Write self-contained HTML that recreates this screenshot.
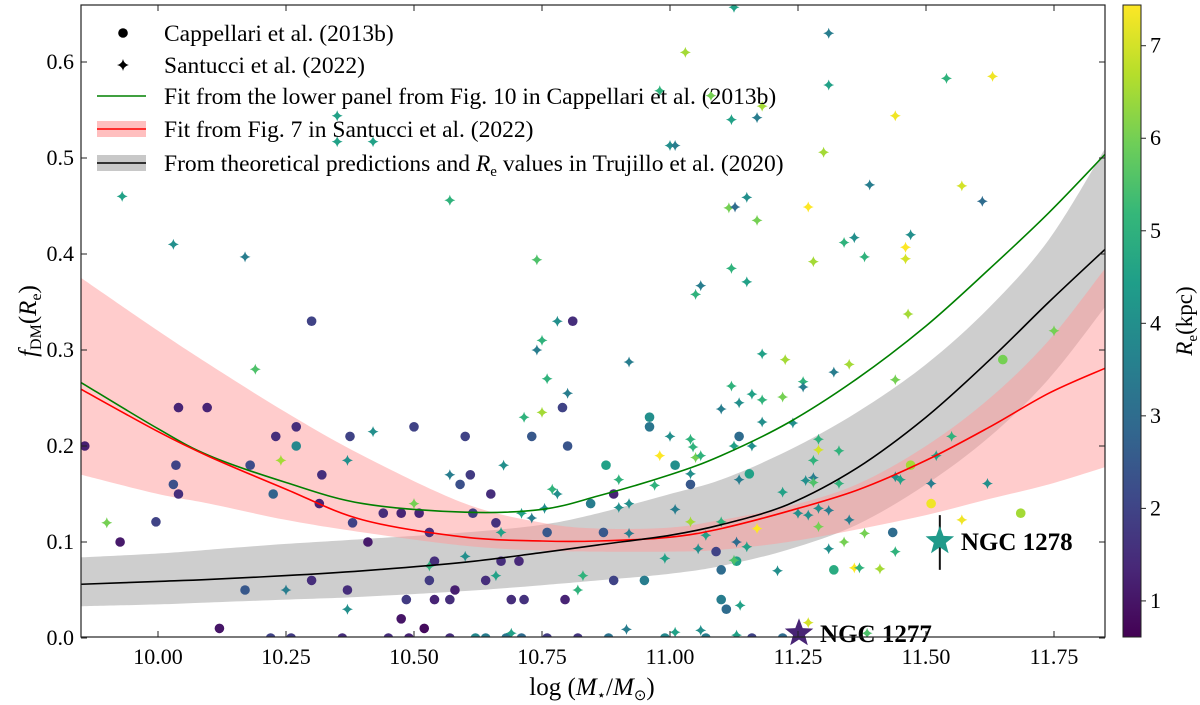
<!DOCTYPE html>
<html><head><meta charset="utf-8"><style>
body{margin:0;background:#fff;}
svg{display:block;font-family:"Liberation Serif",serif;}
</style></head><body>
<svg id="chart" width="1200" height="705" viewBox="0 0 1200 705" xmlns="http://www.w3.org/2000/svg" style="position:absolute;left:0;top:0">
<defs><clipPath id="clip"><rect x="81" y="5" width="1024" height="632"/></clipPath>
<linearGradient id="vir" x1="0" y1="1" x2="0" y2="0">
<stop offset="0" stop-color="#440154"/><stop offset="0.11" stop-color="#482878"/><stop offset="0.22" stop-color="#3e4989"/><stop offset="0.33" stop-color="#31688e"/><stop offset="0.44" stop-color="#26828e"/><stop offset="0.56" stop-color="#1f9e89"/><stop offset="0.67" stop-color="#35b779"/><stop offset="0.78" stop-color="#6ece58"/><stop offset="0.89" stop-color="#b5de2b"/><stop offset="1" stop-color="#fde725"/></linearGradient></defs>
<g id="bands" clip-path="url(#clip)"></g>
<g id="marks" clip-path="url(#clip)"></g>
<g id="axes"></g>
</svg>
<script>
const NS="http://www.w3.org/2000/svg";
// ---- data ----
const cappX=[9.857,9.926,9.996,10.04,10.096,10.035,10.03,10.04,10.12,10.17,10.18,10.225,10.23,10.27,10.27,10.30,10.30,10.32,10.315,10.37,10.375,10.38,10.41,10.44,10.475,10.475,10.485,10.50,10.51,10.52,10.53,10.53,10.54,10.54,10.57,10.58,10.59,10.60,10.61,10.615,10.64,10.65,10.66,10.67,10.69,10.705,10.715,10.73,10.76,10.79,10.80,10.81,10.795,10.845,10.96,10.96,10.875,11.01,11.135,10.89,11.04,11.155,10.87,11.09,11.10,11.13,10.89,10.95,11.10,11.11,11.32,11.435,11.47,11.51,11.65,11.685,10.22,10.26,10.36,10.45,10.49,10.57,10.62,10.64,10.68,10.71,10.76,10.82,10.88,10.99,11.07,11.16,11.22];
const cappY=[0.20,0.10,0.121,0.24,0.24,0.18,0.16,0.15,0.01,0.05,0.18,0.15,0.21,0.22,0.20,0.33,0.06,0.17,0.14,0.05,0.21,0.12,0.10,0.13,0.13,0.02,0.04,0.22,0.13,0.01,0.11,0.06,0.04,0.08,0.04,0.05,0.16,0.21,0.17,0.13,0.06,0.15,0.12,0.08,0.04,0.08,0.04,0.21,0.11,0.24,0.20,0.33,0.04,0.14,0.23,0.22,0.18,0.18,0.21,0.15,0.16,0.171,0.11,0.09,0.071,0.08,0.06,0.06,0.04,0.03,0.071,0.11,0.18,0.14,0.29,0.13,0,0,0,0,0,0,0,0,0,0,0,0,0,0,0,0,0];
const cappR=[1.2,1.1,2.0,1.3,1.3,2.0,2.3,1.5,1.0,2.5,2.2,2.8,1.5,1.5,3.8,2.0,1.5,1.5,1.3,1.5,2.0,2.0,1.1,1.5,1.3,1.0,1.8,2.0,1.3,0.8,1.5,1.8,1.3,1.5,1.5,1.2,2.3,2.0,1.8,1.8,1.5,1.5,1.6,1.5,1.5,1.4,1.6,2.5,2.5,2.0,2.4,1.5,1.3,3.5,4.0,3.3,4.5,4.0,3.0,1.3,2.5,4.5,2.5,2.0,3.0,4.5,2.0,3.5,3.5,3.0,4.8,3.0,6.5,7.3,6.0,6.5,2.0,1.8,1.5,1.5,1.3,1.5,3.8,3.5,3.3,3.0,1.8,1.7,3.2,3.8,3.5,2.0,3.0];
const santX=[9.90,10.19,10.24,10.25,10.37,10.37,10.42,10.50,10.53,10.57,10.60,10.66,10.67,10.675,10.69,10.71,10.715,10.73,10.74,10.75,10.75,10.76,10.755,10.77,10.78,10.78,10.80,10.82,10.83,
9.93,10.03,10.17,10.57,10.74,10.35,10.35,10.42,
11.125,11.31,11.03,10.98,11.08,11.18,11.31,11.54,11.63,11.12,11.17,11.44,11.0,11.01,11.30,11.39,11.57,11.61,11.15,11.115,11.127,11.27,11.17,11.34,11.36,11.47,11.46,11.46,11.38,11.28,11.12,11.15,11.06,11.05,
11.465,11.75,10.92,11.18,11.225,11.35,11.32,11.12,11.26,11.26,11.16,11.135,11.18,11.22,11.10,11.44,11.18,11.24,11.0,11.04,11.045,11.29,11.125,11.16,10.98,11.29,11.05,11.06,11.33,11.55,11.52,11.28,10.90,10.97,11.04,11.135,11.22,11.265,11.28,11.28,11.33,11.44,11.45,11.51,11.62,10.90,10.92,11.01,11.04,11.10,10.92,11.07,11.17,11.25,11.27,11.29,11.31,11.29,11.35,11.38,11.57,11.13,11.055,11.15,10.99,11.125,11.31,11.34,11.44,11.21,11.36,11.37,11.41,11.137,10.915,11.01,11.06,11.27,11.385,11.13];
const santY=[0.12,0.28,0.185,0.05,0.185,0.03,0.215,0.14,0.075,0.17,0.085,0.065,0.11,0.18,0.005,0.13,0.23,0.125,0.30,0.31,0.235,0.27,0.135,0.155,0.15,0.33,0.255,0.05,0.065,
0.46,0.41,0.397,0.456,0.394,0.544,0.517,0.517,
0.657,0.63,0.61,0.57,0.565,0.554,0.576,0.583,0.585,0.54,0.542,0.544,0.513,0.513,0.506,0.472,0.471,0.455,0.459,0.448,0.449,0.449,0.435,0.412,0.417,0.42,0.407,0.395,0.397,0.392,0.385,0.371,0.367,0.358,
0.3375,0.32,0.2875,0.296,0.29,0.285,0.277,0.2625,0.267,0.2615,0.254,0.245,0.248,0.251,0.2385,0.269,0.225,0.224,0.21,0.207,0.199,0.207,0.20,0.20,0.19,0.196,0.188,0.19,0.195,0.21,0.19,0.185,0.165,0.159,0.171,0.165,0.152,0.164,0.167,0.162,0.161,0.168,0.165,0.161,0.161,0.136,0.14,0.134,0.121,0.121,0.109,0.107,0.114,0.13,0.128,0.135,0.133,0.116,0.123,0.109,0.123,0.10,0.093,0.095,0.083,0.081,0.093,0.10,0.09,0.07,0.073,0.073,0.072,0.034,0.009,0.006,0.008,0.016,0.005,0.003];
const santR=[6,5.5,6.5,3.5,4,4,4,6,5,3.5,4,4.5,4.5,4,4.5,4.5,5,3.5,3.5,5,6.5,5,4,5,4,4,3.5,5,5,
4.5,4,3.5,5,5.5,4.5,4.5,4.5,
4.5,3.5,6.5,5,6,6.5,4.5,5,7.3,4.5,3.5,7.3,4,3.5,6.5,3.5,7,3,4,6,3,7.5,6,5,4,4,7.5,7,5,6.5,5,4.5,3.5,5,
6.5,6,3.5,4.5,6.5,6.5,3.5,5,5,3.5,4.5,4,5,6,3.5,6,4,4,4,5,5,5,4.5,4,7.5,7,6,5,5,5,4.5,5,5,5,4,3.5,4.5,4,3.5,5.5,5,4,4.5,3.5,4,4,4,3.5,6.5,5,3.5,4.5,7.5,4,4,4,3.5,6,3.5,6,7.3,3,4,4.5,4.5,5.5,4,6,5,4,7.5,5,6.5,4.5,3.5,4.5,4,7,5.5,4.5];
// fit curves (shared x grid)
const curveX=[9.85,10.0,10.1,10.25,10.4,10.6,10.75,10.86,11.0,11.1,11.23,11.365,11.5,11.625,11.74,11.85];
const greenY=[0.266,0.218,0.19,0.162,0.14,0.131,0.134,0.148,0.17,0.19,0.224,0.27,0.325,0.385,0.443,0.504];
const redY=[0.259,0.215,0.189,0.155,0.123,0.105,0.101,0.101,0.105,0.114,0.132,0.154,0.185,0.22,0.255,0.281];
const redUp=[0.375,0.32,0.285,0.235,0.19,0.14,0.12,0.114,0.115,0.123,0.137,0.16,0.2,0.25,0.31,0.385];
const redLo=[0.17,0.15,0.14,0.123,0.11,0.096,0.091,0.09,0.09,0.092,0.1,0.113,0.128,0.145,0.16,0.178];
const blackY=[0.056,0.059,0.061,0.065,0.07,0.079,0.089,0.097,0.107,0.118,0.139,0.177,0.23,0.29,0.35,0.405];
const grayUp=[0.084,0.088,0.092,0.098,0.103,0.11,0.118,0.13,0.15,0.165,0.195,0.235,0.285,0.345,0.415,0.51];
const grayLo=[0.033,0.035,0.037,0.04,0.043,0.049,0.055,0.06,0.067,0.075,0.092,0.118,0.16,0.21,0.27,0.345];
const ngcX=[11.527,11.252];
const ngcY=[0.101,0.005];
const ngcR=[4.3,1.3];
const ngcErrLo=[0.071];
const ngcErrHi=[0.128];
const ngcNames=["NGC 1278","NGC 1277"];
const xTicks=[10.00,10.25,10.50,10.75,11.00,11.25,11.50,11.75];
const yTicks=[0.0,0.1,0.2,0.3,0.4,0.5,0.6];
const cTicks=[1,2,3,4,5,6,7];
// ---- scales ----
const X=v=>158+(v-10)*512;
const Y=v=>638-v*960;
const CB0=0.61,CB1=7.44;
const CY=v=>637-(v-CB0)/(CB1-CB0)*632;
const vir=[[68,1,84],[72,40,120],[62,73,137],[49,104,142],[38,130,142],[31,158,137],[53,183,121],[110,206,88],[181,222,43],[253,231,37]];
function cmap(r){let t=Math.max(0,Math.min(1,(r-CB0)/(CB1-CB0)))*(vir.length-1);const i=Math.min(vir.length-2,Math.floor(t)),f=t-i;
 const c=vir[i].map((a,k)=>Math.round(a+(vir[i+1][k]-a)*f));return `rgb(${c})`;}
function el(tag,attrs,parent,txt){const e=document.createElementNS(NS,tag);for(const k in attrs)e.setAttribute(k,attrs[k]);if(txt!==undefined)e.textContent=txt;parent.appendChild(e);return e;}
const bands=document.getElementById('bands'),marks=document.getElementById('marks'),axes=document.getElementById('axes');
// smooth (Catmull-Rom) path segments through points
function smooth(pts,start){let d=start?'M'+pts[0][0]+','+pts[0][1]:'L'+pts[0][0]+','+pts[0][1];
 for(let i=0;i<pts.length-1;i++){const p0=pts[Math.max(0,i-1)],p1=pts[i],p2=pts[i+1],p3=pts[Math.min(pts.length-1,i+2)];
  const c1=[p1[0]+(p2[0]-p0[0])/6,p1[1]+(p2[1]-p0[1])/6],c2=[p2[0]-(p3[0]-p1[0])/6,p2[1]-(p3[1]-p1[1])/6];
  d+=`C${c1[0].toFixed(1)},${c1[1].toFixed(1)} ${c2[0].toFixed(1)},${c2[1].toFixed(1)} ${p2[0].toFixed(1)},${p2[1].toFixed(1)}`;}
 return d;}
const pts=ys=>curveX.map((x,i)=>[X(x),Y(ys[i])]);
function bandPath(up,lo){return smooth(pts(up),true)+smooth(pts(lo).reverse(),false)+'Z';}
function linePath(ys){return smooth(pts(ys),true);}
let b=el('path',{d:bandPath(grayUp,grayLo),fill:'#b3b3b3','fill-opacity':0.65},bands);


b=el('path',{d:bandPath(redUp,redLo),fill:'#ff9999','fill-opacity':0.5},bands);


cappX.forEach((x,i)=>{const c=el('circle',{cx:X(x),cy:Y(cappY[i]),r:4.8,fill:cmap(cappR[i])},marks);
 
 });
function star4(cx,cy,s){return `M${cx},${cy-s}Q${cx+1},${cy-1} ${cx+s},${cy}Q${cx+1},${cy+1} ${cx},${cy+s}Q${cx-1},${cy+1} ${cx-s},${cy}Q${cx-1},${cy-1} ${cx},${cy-s}Z`;}
santX.forEach((x,i)=>{const p=el('path',{d:star4(X(x),Y(santY[i]),5.5),fill:cmap(santR[i])},marks);
 
 });
let l=el('path',{d:linePath(greenY),fill:'none',stroke:'green','stroke-width':1.6},marks);


l=el('path',{d:linePath(redY),fill:'none',stroke:'red','stroke-width':1.6},marks);


l=el('path',{d:linePath(blackY),fill:'none',stroke:'black','stroke-width':1.6},marks);


function star5(cx,cy,R){let d='';for(let k=0;k<10;k++){const r=k%2?R*0.42:R,a=-Math.PI/2+k*Math.PI/5;d+=(k?'L':'M')+(cx+r*Math.cos(a)).toFixed(1)+','+(cy+r*Math.sin(a)).toFixed(1);}return d+'Z';}
let eb=el('line',{x1:X(ngcX[0]),x2:X(ngcX[0]),y1:Y(ngcErrHi[0]),y2:Y(ngcErrLo[0]),stroke:'#111','stroke-width':2},axes);


ngcX.forEach((x,i)=>{const s=el('path',{d:star5(X(x),Y(ngcY[i]),15),fill:cmap(ngcR[i])},axes);
 
 
 const t=el('text',{x:X(x)+21,y:Y(ngcY[i])+9,'font-size':25,'font-weight':'bold'},axes,ngcNames[i]);
 
 });
let f=el('rect',{x:81,y:5,width:1024,height:632,fill:'none',stroke:'#222','stroke-width':1.2},axes);


xTicks.forEach(v=>{const x=X(v);el('line',{x1:x,x2:x,y1:637,y2:631,stroke:'#222'},axes);el('line',{x1:x,x2:x,y1:5,y2:11,stroke:'#222'},axes);
 const t=el('text',{x:x,y:664,'font-size':22,'text-anchor':'middle'},axes,v.toFixed(2));
 
 });
yTicks.forEach(v=>{const y=Y(v);el('line',{x1:81,x2:87,y1:y,y2:y,stroke:'#222'},axes);el('line',{x1:1105,x2:1099,y1:y,y2:y,stroke:'#222'},axes);
 const t=el('text',{x:74,y:y+7,'font-size':22,'text-anchor':'end'},axes,v.toFixed(1));
 
 });
let cb=el('rect',{x:1123,y:5,width:18,height:632,fill:'url(#vir)',stroke:'#222','stroke-width':1},axes);


cTicks.forEach(v=>{const y=CY(v);el('line',{x1:1141,x2:1146,y1:y,y2:y,stroke:'#222'},axes);
 const t=el('text',{x:1150,y:y+7,'font-size':22},axes,String(v));
 
 });
</script>
<svg style="position:absolute;left:0;top:0" width="1200" height="705">
<text x="592" y="695" font-size="25" text-anchor="middle" font-family="Liberation Serif,serif">log (<tspan font-style="italic">M</tspan><tspan font-size="15" dy="5">⋆</tspan><tspan dy="-5">/</tspan><tspan font-style="italic">M</tspan><tspan font-size="15" dy="5">⊙</tspan><tspan dy="-5">)</tspan></text>
<text transform="translate(36,321) rotate(-90)" font-size="25" text-anchor="middle" font-family="Liberation Serif,serif"><tspan font-style="italic">f</tspan><tspan font-size="16" dy="5">DM</tspan><tspan dy="-5">(</tspan><tspan font-style="italic">R</tspan><tspan font-size="16" dy="5">e</tspan><tspan dy="-5">)</tspan></text>
<text transform="translate(1192,321) rotate(-90)" font-size="23" text-anchor="middle" font-family="Liberation Serif,serif"><tspan font-style="italic">R</tspan><tspan font-size="15" dy="5">e</tspan><tspan dy="-5">(kpc)</tspan></text>
<g font-family="Liberation Serif,serif" font-size="23.5">
<circle cx="123" cy="33" r="4.8" fill="#000"/><text x="164" y="41">Cappellari et al. (2013b)</text>
<path d="M123,59Q124,64 129,65Q124,66 123,71Q122,66 117,65Q122,64 123,59Z" fill="#000"/><text x="164" y="73">Santucci et al. (2022)</text>
<line x1="97" x2="146" y1="96" y2="96" stroke="green" stroke-width="1.6"/><text x="164" y="104">Fit from the lower panel from Fig. 10 in Cappellari et al. (2013b)</text>
<rect x="97" y="121" width="49" height="16" fill="#ffbfbf"/><line x1="97" x2="146" y1="129" y2="129" stroke="red" stroke-width="1.6"/><text x="164" y="137">Fit from Fig. 7 in Santucci et al. (2022)</text>
<rect x="97" y="155" width="49" height="16" fill="#c8c8c8"/><line x1="97" x2="146" y1="163" y2="163" stroke="black" stroke-width="1.6"/><text x="164" y="171">From theoretical predictions and <tspan font-style="italic">R</tspan><tspan font-size="15" dy="5">e</tspan><tspan dy="-5"> values in Trujillo et al. (2020)</tspan></text>
</g>
</svg>
</body></html>
